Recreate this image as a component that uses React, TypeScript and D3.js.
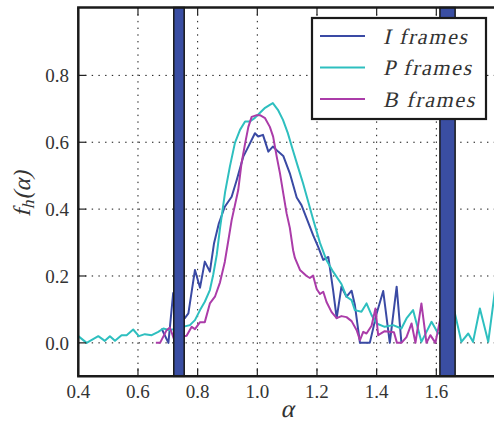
import React from "react";
import * as d3 from "d3";

// axis ticks and shaded bands
const xTicks = [0.4, 0.6, 0.8, 1.0, 1.2, 1.4, 1.6, 1.8];
const yTicks = [0.0, 0.2, 0.4, 0.6, 0.8];
const bands: [number, number][] = [
  [0.72, 0.755],
  [1.612, 1.663],
];

const seriesNames = ["I frames", "P frames", "B frames"];
const seriesColors = ["#3a4aa4", "#2ebfbf", "#ab3ca9"];

// [alpha, f_h(alpha)]
const iFrames: [number, number][] = [
  [0.679, 0.043], [0.702, 0.0], [0.718, 0.149], [0.737, 0.113], [0.757, 0.074],
  [0.769, 0.088], [0.791, 0.218], [0.808, 0.165], [0.824, 0.243], [0.841, 0.213],
  [0.855, 0.298], [0.871, 0.357], [0.891, 0.407], [0.914, 0.437], [0.931, 0.487],
  [0.953, 0.557], [0.97, 0.587], [0.992, 0.627], [1.003, 0.617], [1.019, 0.622],
  [1.037, 0.572], [1.052, 0.587], [1.07, 0.572], [1.087, 0.559], [1.109, 0.507],
  [1.132, 0.435], [1.148, 0.412], [1.165, 0.373], [1.187, 0.322], [1.204, 0.287],
  [1.221, 0.248], [1.238, 0.257], [1.254, 0.158], [1.266, 0.074], [1.282, 0.168],
  [1.299, 0.138], [1.316, 0.156], [1.327, 0.113], [1.344, 0.0], [1.377, 0.0],
  [1.4, 0.088], [1.422, 0.155], [1.444, 0.0], [1.467, 0.168], [1.483, 0.0],
];

const pFrames: [number, number][] = [
  [0.399, 0.021], [0.428, 0.0], [0.467, 0.02], [0.489, 0.006], [0.506, 0.02],
  [0.523, 0.006], [0.545, 0.023], [0.562, 0.023], [0.584, 0.04], [0.603, 0.02],
  [0.623, 0.026], [0.646, 0.023], [0.668, 0.033], [0.685, 0.043], [0.707, 0.038],
  [0.741, 0.046], [0.774, 0.053], [0.791, 0.068], [0.808, 0.098], [0.824, 0.123],
  [0.841, 0.158], [0.852, 0.203], [0.864, 0.263], [0.875, 0.343], [0.892, 0.451],
  [0.908, 0.527], [0.925, 0.598], [0.942, 0.637], [0.959, 0.662], [0.975, 0.662],
  [0.992, 0.673], [1.009, 0.688], [1.026, 0.703], [1.042, 0.712], [1.052, 0.717],
  [1.069, 0.697], [1.086, 0.667], [1.102, 0.628], [1.119, 0.577], [1.136, 0.527],
  [1.153, 0.478], [1.169, 0.427], [1.187, 0.37], [1.21, 0.299], [1.232, 0.247],
  [1.254, 0.213], [1.282, 0.176], [1.299, 0.138], [1.316, 0.128], [1.327, 0.098],
  [1.349, 0.093], [1.366, 0.118], [1.383, 0.083], [1.4, 0.058], [1.427, 0.048],
  [1.455, 0.053], [1.483, 0.043], [1.5, 0.073], [1.522, 0.098], [1.55, 0.003],
  [1.567, 0.033], [1.584, 0.063], [1.606, 0.028], [1.623, 0.033], [1.645, 0.033],
  [1.661, 0.093], [1.684, 0.003], [1.707, 0.028], [1.723, 0.003], [1.746, 0.103],
  [1.774, 0.003], [1.799, 0.173],
];

const bFrames: [number, number][] = [
  [0.66, 0.0], [0.674, 0.0], [0.696, 0.038], [0.707, 0.046], [0.724, 0.003],
  [0.746, 0.018], [0.763, 0.021], [0.78, 0.048], [0.791, 0.041], [0.808, 0.062],
  [0.824, 0.062], [0.841, 0.118], [0.858, 0.138], [0.875, 0.181], [0.891, 0.242],
  [0.903, 0.307], [0.914, 0.367], [0.925, 0.412], [0.936, 0.457], [0.947, 0.537],
  [0.959, 0.596], [0.97, 0.646], [0.981, 0.676], [0.998, 0.681], [1.009, 0.681],
  [1.026, 0.672], [1.042, 0.646], [1.053, 0.617], [1.065, 0.557], [1.076, 0.507],
  [1.087, 0.447], [1.098, 0.388], [1.109, 0.344], [1.12, 0.277], [1.126, 0.254],
  [1.143, 0.218], [1.165, 0.2], [1.176, 0.194], [1.187, 0.201], [1.199, 0.161],
  [1.21, 0.146], [1.221, 0.153], [1.232, 0.122], [1.249, 0.092], [1.266, 0.074],
  [1.282, 0.08], [1.299, 0.077], [1.316, 0.065], [1.333, 0.038], [1.344, 0.008],
  [1.355, 0.033], [1.366, 0.028], [1.383, 0.051], [1.396, 0.103], [1.405, 0.023],
  [1.416, 0.029], [1.427, 0.035], [1.444, 0.033], [1.458, 0.032], [1.468, 0.0],
  [1.483, 0.0], [1.5, 0.017], [1.517, 0.058], [1.53, 0.0], [1.55, 0.118],
  [1.567, 0.0], [1.58, 0.023], [1.597, 0.0], [1.613, 0.071], [1.63, 0.0],
  [1.642, 0.0],
];

const allSeries = [iFrames, pFrames, bFrames];

const W = 494;
const H = 421;
const left = 78.3;
const right = 496;
const top = 7.5;
const bottom = 376.3;

export default function App() {
  const x = d3.scaleLinear().domain([0.4, 1.8]).range([left, right]);
  const y = d3.scaleLinear().domain([-0.1, 1.003]).range([bottom, top]);
  const line = d3
    .line<[number, number]>()
    .x((d) => x(d[0]))
    .y((d) => y(d[1]));

  const serif = "Liberation Serif";
  // no italic serif face available, so slant the upright one
  const slant = "skewX(-13)";

  return (
    <svg
      width={W}
      height={H}
      style={{ position: "absolute", left: 0, top: 0, background: "#fff" }}
    >
      <defs>
        <clipPath id="plot">
          <rect x={left} y={top} width={right - left} height={bottom - top} />
        </clipPath>
      </defs>

      {/* grid */}
      <g stroke="#111" strokeWidth={1} strokeDasharray="1.4,5.3">
        {xTicks
          .filter((t) => t > 0.4 && t < 1.8)
          .map((t) => (
            <line key={"gx" + t} x1={x(t)} x2={x(t)} y1={top} y2={bottom} />
          ))}
        {yTicks.map((t) => (
          <line key={"gy" + t} x1={left} x2={right} y1={y(t)} y2={y(t)} />
        ))}
      </g>

      {/* series */}
      <g clipPath="url(#plot)" fill="none" strokeWidth={2} strokeLinejoin="round">
        {allSeries.map((s, i) => (
          <path key={i} d={line(s) ?? ""} stroke={seriesColors[i]} />
        ))}
      </g>

      {/* shaded bands */}
      <g>
        {bands.map((b, i) => (
          <rect
            key={i}
            x={x(b[0])}
            y={top}
            width={x(b[1]) - x(b[0])}
            height={bottom - top}
            fill="#3a4ea2"
            stroke="#1a1a1a"
            strokeWidth={1.5}
          />
        ))}
      </g>

      {/* ticks */}
      <g stroke="#222" strokeWidth={1.2}>
        {xTicks.map((t) => (
          <React.Fragment key={"tx" + t}>
            <line x1={x(t)} x2={x(t)} y1={bottom} y2={bottom - 8} />
            <line x1={x(t)} x2={x(t)} y1={top} y2={top + 8} />
          </React.Fragment>
        ))}
        {yTicks.map((t) => (
          <line key={"ty" + t} x1={left} x2={left + 8} y1={y(t)} y2={y(t)} />
        ))}
      </g>

      {/* spines */}
      <g stroke="#1a1a1a" strokeWidth={2.5} fill="none">
        <line x1={left} x2={left} y1={top} y2={bottom} />
        <line x1={left - 1.2} x2={W} y1={bottom} y2={bottom} />
        <line x1={left - 1.2} x2={W} y1={top} y2={top} />
      </g>

      {/* tick labels */}
      <g style={{ fontFamily: serif }} fontSize={19} fill="#333">
        {xTicks
          .filter((t) => t < 1.75)
          .map((t) => (
            <text key={"lx" + t} x={x(t)} y={398} textAnchor="middle">
              {t.toFixed(1)}
            </text>
          ))}
        {yTicks.map((t) => (
          <text key={"ly" + t} x={69} y={y(t)} dy="0.36em" textAnchor="end">
            {t.toFixed(1)}
          </text>
        ))}
      </g>

      {/* axis labels */}
      <text
        transform={`translate(${(left + right) / 2},417) ${slant}`}
        textAnchor="middle"
        style={{ fontFamily: serif }}
        fontSize={25}
        fill="#333"
      >
        α
      </text>
      <g transform="translate(30,194) rotate(-90)">
        <text
          transform={slant}
          textAnchor="middle"
          style={{ fontFamily: serif }}
          fontSize={24}
          fill="#333"
        >
          <tspan>f</tspan>
          <tspan fontSize={17} dy={4} dx={1}>
            h
          </tspan>
          <tspan dy={-4}>(</tspan>
          <tspan>α</tspan>
          <tspan>)</tspan>
        </text>
      </g>

      {/* legend */}
      <g>
        <rect
          x={312}
          y={18}
          width={174}
          height={101}
          fill="#fff"
          stroke="#1a1a1a"
          strokeWidth={2.2}
        />
        {seriesNames.map((n, i) => {
          const ly = 36 + i * 31.5;
          return (
            <g key={n}>
              <line
                x1={320}
                x2={365}
                y1={ly}
                y2={ly}
                stroke={seriesColors[i]}
                strokeWidth={2}
              />
              <text
                transform={`translate(383,${ly + 7.5}) ${slant}`}
                style={{ fontFamily: serif, letterSpacing: "1.6px" }}
                fontSize={22}
                fill="#333"
              >
                {n}
              </text>
            </g>
          );
        })}
      </g>
    </svg>
  );
}
